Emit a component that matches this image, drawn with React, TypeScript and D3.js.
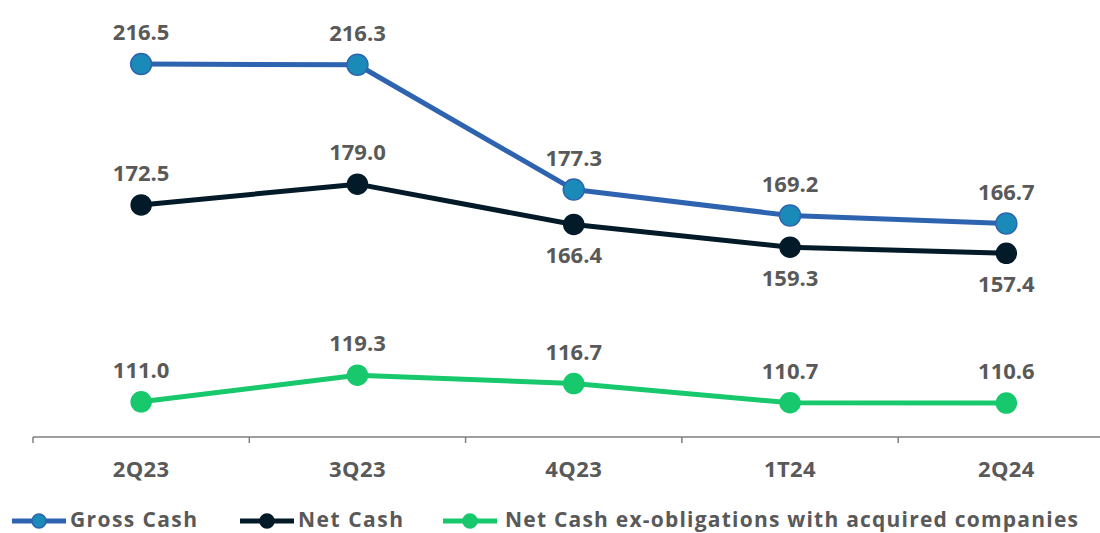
import React from "react";
import * as d3 from "d3";

const categories = ["2Q23", "3Q23", "4Q23", "1T24", "2Q24"];
const grossCash = [216.5, 216.3, 177.3, 169.2, 166.7];
const netCash = [172.5, 179.0, 166.4, 159.3, 157.4];
const netCashEx = [111.0, 119.3, 116.7, 110.7, 110.6];
const netCashLabelPos = ["above", "above", "below", "below", "below"];
const seriesNames = ["Gross Cash", "Net Cash", "Net Cash ex-obligations with acquired companies"];

const W = 1100;
const H = 533;
const FONT = "'Open Sans', Lato, sans-serif";
const TEXT = "#595959";

export default function App() {
  const x = d3.scaleBand<string>().domain(categories).range([33, 33 + 216.3 * 5]);
  const y = d3.scaleLinear().domain([100, 240]).range([437, -11.1]);
  const cx = (c: string) => (x(c) as number) + x.bandwidth() / 2;
  const line = d3
    .line<number>()
    .x((_, i) => cx(categories[i]))
    .y((d) => y(d));

  const series = [
    { name: seriesNames[0], data: grossCash, stroke: "#2E63B0", fill: "#1A8BB8", mstroke: "#2E63B0", r: 10.5, pos: categories.map(() => "above") },
    { name: seriesNames[1], data: netCash, stroke: "#031A28", fill: "#031A28", mstroke: "#031A28", r: 10, pos: netCashLabelPos },
    { name: seriesNames[2], data: netCashEx, stroke: "#17C86D", fill: "#17C86D", mstroke: "#17C86D", r: 10, pos: categories.map(() => "above") },
  ];

  const legendX = [12, 240, 443];
  const legendTextX = [70, 298, 505];
  const legendTextW = [127, 105, 573];

  return (
    <svg width={W} height={H} style={{ position: "absolute", left: 0, top: 0, background: "#fff" }}>
      <line x1={33} x2={W} y1={437} y2={437} stroke="#7f7f7f" strokeWidth={1.5} />
      {d3.range(categories.length).map((i) => {
        const tx = x(categories[i]) as number;
        return <line key={i} x1={tx} x2={tx} y1={437} y2={443} stroke="#7f7f7f" strokeWidth={1.5} />;
      })}
      {categories.map((c) => (
        <text key={c} x={cx(c)} y={468} textAnchor="middle" dominantBaseline="central" fontFamily={FONT} fontWeight={700} fontSize={22} letterSpacing={0.4} fill={TEXT}>
          {c}
        </text>
      ))}
      {series.map((s) => (
        <g key={s.name}>
          <path d={line(s.data) || ""} fill="none" stroke={s.stroke} strokeWidth={5} strokeLinejoin="round" />
          {s.data.map((v, i) => (
            <circle key={i} cx={cx(categories[i])} cy={y(v)} r={s.r} fill={s.fill} stroke={s.mstroke} strokeWidth={1.5} />
          ))}
          {s.data.map((v, i) => (
            <text
              key={"t" + i}
              x={cx(categories[i])}
              y={y(v) + (s.pos[i] === "above" ? -33 : 30)}
              textAnchor="middle"
              dominantBaseline="central"
              fontFamily={FONT}
              fontWeight={700}
              fontSize={22}
              fill={TEXT}
            >
              {v.toFixed(1)}
            </text>
          ))}
        </g>
      ))}
      {series.map((s, i) => (
        <g key={"lg" + i}>
          <line x1={legendX[i]} x2={legendX[i] + 54} y1={521} y2={521} stroke={s.stroke} strokeWidth={5} />
          <circle cx={legendX[i] + 27} cy={521} r={7} fill={s.fill} stroke={s.mstroke} strokeWidth={1.5} />
          <text
            x={legendTextX[i]}
            y={519}
            dominantBaseline="central"
            fontFamily={FONT}
            fontWeight={700}
            fontSize={21}
            textLength={legendTextW[i]}
            lengthAdjust="spacing"
            fill={TEXT}
          >
            {s.name}
          </text>
        </g>
      ))}
    </svg>
  );
}
